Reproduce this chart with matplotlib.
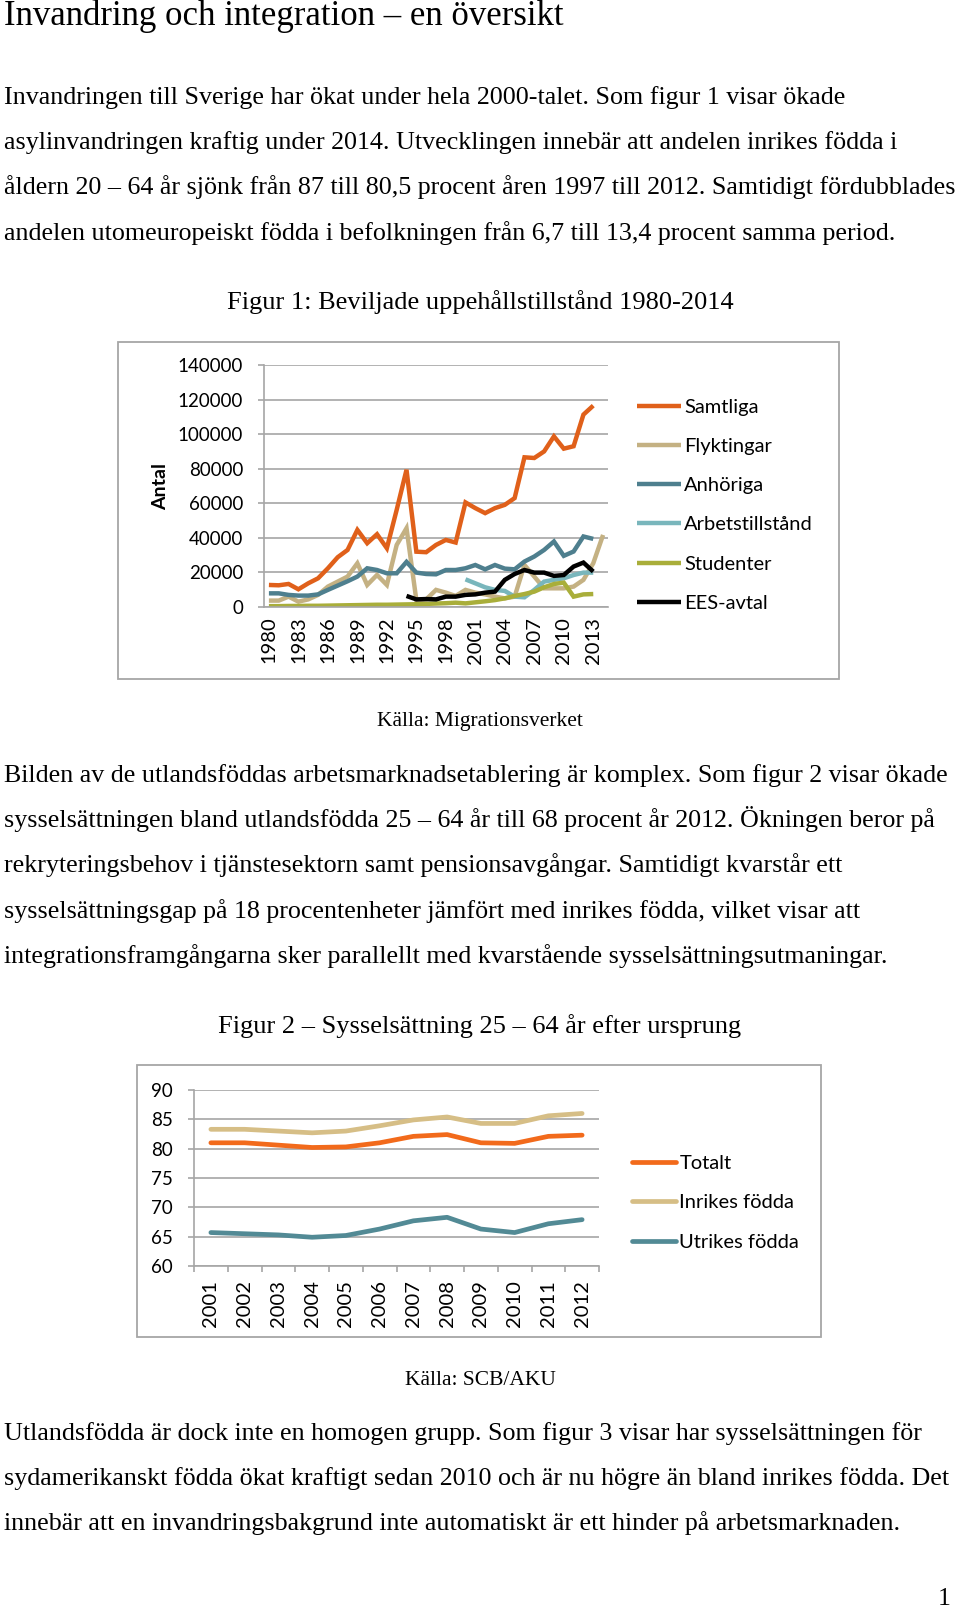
import matplotlib
matplotlib.use("Agg")
import matplotlib.pyplot as plt
from matplotlib.patches import Rectangle

# ── Data ──────────────────────────────────────────────────────────────────────
years_fig1 = list(range(1980, 2015))
samtliga = [12750, 12560, 13330, 10240, 13700, 16600, 22400, 28800, 33000, 44600,
            36900, 42100, 34000, 56200, 79400, 32000, 31700, 35900, 38800, 37300,
            60500, 57200, 54300, 57200, 59100, 63000, 86600, 86200, 90000, 98700,
            91600, 93000, 111300, 116500, None]
flyktingar = [3700, 3700, 6000, 3100, 4400, 7000, 11800, 14700, 17600, 25300,
              12750, 18550, 12750, 35900, 45600, 4000, 4400, 9900, 8300, 6400,
              9900, 8300, 7300, 6000, 5000, 6000, 24300, 17600, 10800, 10800,
              10800, 11800, 15700, 25300, 41700]
anhoriga = [7900, 7900, 7000, 6600, 6600, 7300, 9900, 12400, 14900, 17600,
            22400, 21400, 19500, 19500, 26100, 19900, 19100, 18900, 21400, 21400,
            22400, 24300, 21800, 24300, 22200, 21800, 26300, 29200, 33000, 37900,
            29600, 32100, 40800, 39400, None]
arbetstillstand = [None] * 20 + [16000, 13700, 11400, 9900, 9300, 6000, 5600, 9900,
                                 14700, 15700, 16600, 18500, 19900, 19900, None]
studenter = [500, 500, 600, 600, 700, 700, 800, 900, 1000, 1100,
             1200, 1300, 1300, 1400, 1500, 1600, 1800, 2000, 2200, 2500,
             2100, 2700, 3300, 4000, 5000, 6400, 7500, 8900, 11400, 13300,
             14100, 6000, 7300, 7500, None]
ees_avtal = [None] * 14 + [6400, 4400, 4600, 4400, 6000, 6000, 7000, 7300, 8300, 8900,
                           15700, 19100, 21400, 19900, 19900, 18000, 18500, 23400,
                           25700, 20500, None]

years_fig2 = list(range(2001, 2013))
totalt = [81.0, 81.0, 80.6, 80.2, 80.3, 81.0, 82.1, 82.4, 81.0, 80.9, 82.1, 82.3]
inrikes = [83.3, 83.3, 83.0, 82.7, 83.0, 83.9, 84.9, 85.4, 84.3, 84.3, 85.6, 86.0]
utrikes = [65.7, 65.5, 65.3, 64.9, 65.2, 66.3, 67.7, 68.3, 66.3, 65.7, 67.2, 67.9]

para1 = [
    "Invandringen till Sverige har ökat under hela 2000-talet. Som figur 1 visar ökade",
    "asylinvandringen kraftig under 2014. Utvecklingen innebär att andelen inrikes födda i",
    "åldern 20 – 64 år sjönk från 87 till 80,5 procent åren 1997 till 2012. Samtidigt fördubblades",
    "andelen utomeuropeiskt födda i befolkningen från 6,7 till 13,4 procent samma period.",
]
para2 = [
    "Bilden av de utlandsföddas arbetsmarknadsetablering är komplex. Som figur 2 visar ökade",
    "sysselsättningen bland utlandsfödda 25 – 64 år till 68 procent år 2012. Ökningen beror på",
    "rekryteringsbehov i tjänstesektorn samt pensionsavgångar. Samtidigt kvarstår ett",
    "sysselsättningsgap på 18 procentenheter jämfört med inrikes födda, vilket visar att",
    "integrationsframgångarna sker parallellt med kvarstående sysselsättningsutmaningar.",
]
para3 = [
    "Utlandsfödda är dock inte en homogen grupp. Som figur 3 visar har sysselsättningen för",
    "sydamerikanskt födda ökat kraftigt sedan 2010 och är nu högre än bland inrikes födda. Det",
    "innebär att en invandringsbakgrund inte automatiskt är ett hinder på arbetsmarknaden.",
]

# ── Page setup ────────────────────────────────────────────────────────────────
W, H = 960, 1611
fig = plt.figure(figsize=(W / 100, H / 100), dpi=100)
fig.patch.set_facecolor("white")

SERIF = "Liberation Serif"
SANS = "Lato"
GRID = "#a6a6a6"
BODY = 18.7


def px(x, y):
    return x / W, 1 - y / H


def line_text(x, y, s, **kw):
    fx, fy = px(x, y)
    fig.text(fx, fy, s, va="baseline", **kw)


line_text(4, 25, "Invandring och integration – en översikt", family=SERIF, fontsize=25)
for i, s in enumerate(para1):
    line_text(4, 104 + i * 45.2, s, family=SERIF, fontsize=BODY)
line_text(480, 309, "Figur 1: Beviljade uppehållstillstånd 1980-2014", family=SERIF,
          fontsize=19, ha="center")
line_text(480, 726, "Källa: Migrationsverket", family=SERIF, fontsize=15.5, ha="center")
for i, s in enumerate(para2):
    line_text(4, 782 + i * 45.2, s, family=SERIF, fontsize=BODY)
line_text(480, 1033, "Figur 2 – Sysselsättning 25 – 64 år efter ursprung", family=SERIF,
          fontsize=19, ha="center")
line_text(480, 1385, "Källa: SCB/AKU", family=SERIF, fontsize=15.5, ha="center")
for i, s in enumerate(para3):
    line_text(4, 1440 + i * 45.2, s, family=SERIF, fontsize=BODY)
line_text(951, 1605, "1", family=SERIF, fontsize=BODY, ha="right")

# chart frames
for (x0, y0, x1, y1) in [(118, 342, 839, 679), (137, 1065, 821, 1337)]:
    fx0, fy1 = px(x0, y0)
    fx1, fy0 = px(x1, y1)
    fig.add_artist(Rectangle((fx0, fy0), fx1 - fx0, fy1 - fy0, transform=fig.transFigure,
                             fill=False, edgecolor=GRID, linewidth=1.3))


def style_axes(ax):
    for side in ["top", "right"]:
        ax.spines[side].set_visible(False)
    for side in ["left", "bottom"]:
        ax.spines[side].set_color(GRID)
        ax.spines[side].set_linewidth(1.2)
    ax.grid(axis="y", color=GRID, linewidth=1.2)
    ax.set_axisbelow(True)
    ax.tick_params(axis="y", colors=GRID, labelcolor="black", labelsize=13.5,
                   length=4, width=1.2, pad=11)
    for lbl in ax.get_yticklabels() + ax.get_xticklabels():
        lbl.set_family(SANS)


LEG = dict(frameon=False, prop={"family": SANS, "size": 14.5}, handlelength=2.2,
           handletextpad=0.15, labelspacing=1.1, borderpad=0, borderaxespad=0)

# ── Figur 1 ───────────────────────────────────────────────────────────────────
ax1 = fig.add_axes([264 / W, 1 - 607 / H, 344 / W, 242 / H])
series1 = [
    ("Samtliga", samtliga, "#e0601a"),
    ("Flyktingar", flyktingar, "#c4b183"),
    ("Anhöriga", anhoriga, "#4e7f8e"),
    ("Arbetstillstånd", arbetstillstand, "#79b6bc"),
    ("Studenter", studenter, "#a9ae3a"),
    ("EES-avtal", ees_avtal, "#000000"),
]
x1 = list(range(len(years_fig1)))
for name, vals, col in series1:
    pts = [(x, v) for x, v in zip(x1, vals) if v is not None]
    ax1.plot([p[0] for p in pts], [p[1] for p in pts], color=col, linewidth=3.2,
             label=name, solid_joinstyle="miter", solid_capstyle="butt")
ax1.set_xlim(-0.5, len(years_fig1) - 0.5)
ax1.set_ylim(0, 140000)
ax1.set_yticks(range(0, 140001, 20000))
ax1.set_xticks(x1[::3])
ax1.set_xticklabels([str(y) for y in years_fig1[::3]], rotation=90)
ax1.tick_params(axis="x", length=0, labelsize=14.5, pad=7)
style_axes(ax1)
fx, fy = px(161, 487)
fig.text(fx, fy, "Antal", rotation=90, ha="center", va="center", family=SANS,
         fontweight="bold", fontsize=14)
ax1.legend(loc="upper left", bbox_to_anchor=px(637, 398.5), bbox_transform=fig.transFigure, **LEG)

# ── Figur 2 ───────────────────────────────────────────────────────────────────
ax2 = fig.add_axes([194 / W, 1 - 1266 / H, 405 / W, 176 / H])
series2 = [
    ("Totalt", totalt, "#f26a1b"),
    ("Inrikes födda", inrikes, "#d6be86"),
    ("Utrikes födda", utrikes, "#528a95"),
]
x2 = list(range(len(years_fig2)))
for name, vals, col in series2:
    ax2.plot(x2, vals, color=col, linewidth=3.4, label=name, solid_capstyle="round")
ax2.set_xlim(-0.5, len(years_fig2) - 0.5)
ax2.set_ylim(60, 90)
ax2.set_yticks(range(60, 91, 5))
ax2.set_xticks(x2)
ax2.set_xticklabels([str(y) for y in years_fig2], rotation=90)
ax2.set_xticks([x - 0.5 for x in range(len(years_fig2) + 1)], minor=True)
ax2.tick_params(axis="x", which="major", length=0, labelsize=14.5, pad=10)
ax2.tick_params(axis="x", which="minor", length=4.5, width=1.2, colors=GRID)
style_axes(ax2)
ax2.legend(loc="upper left", bbox_to_anchor=px(632, 1155), bbox_transform=fig.transFigure, **LEG)

fig.savefig("out.png", dpi=100, facecolor="white")
